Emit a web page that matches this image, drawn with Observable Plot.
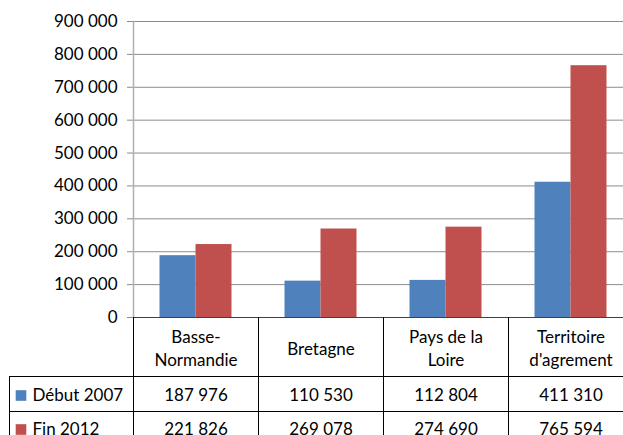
<!DOCTYPE html>
<html><head><meta charset="utf-8">
<script src="https://cdn.jsdelivr.net/npm/d3@7"></script>
<script src="https://cdn.jsdelivr.net/npm/@observablehq/plot@0.6"></script>
<style>body{margin:0;background:#fff;} #chart svg{display:block;overflow:hidden;}</style>
</head><body><div id="chart"></div>
<script>
const categories = ["Basse-Normandie", "Bretagne", "Pays de la Loire", "Territoire d'agrement"];
const categoryLabels = ["Basse-\nNormandie", "Bretagne", "Pays de la\nLoire", "Territoire\nd'agrement"];
const seriesNames = ["Début 2007", "Fin 2012"];
const debut2007 = [187976, 110530, 112804, 411310];
const fin2012 = [221826, 269078, 274690, 765594];
const seriesColors = ["#4F81BD", "#C0504D"];
const yTicks = [0, 100000, 200000, 300000, 400000, 500000, 600000, 700000, 800000, 900000];

const fmt = d => d3.format(",")(d).replace(/,/g, " ");
const seriesValues = [debut2007, fin2012];
const rows = seriesNames.map((s, si) => categories.map((c, i) => ({series: s, category: c, value: seriesValues[si][i]})));

const FONT = "Lato, 'Open Sans', sans-serif";
const FS = 17;
const rowDy = [78, 112];

const marks = [
  Plot.ruleY(yTicks.filter(d => d > 0), {stroke: "#8c8c8c", strokeWidth: 1}),
  Plot.axisY({ticks: yTicks, tickFormat: fmt, tickSize: 6, tickPadding: 10, stroke: "#8c8c8c", fill: "#000", fontSize: FS, label: null}),
  Plot.frame({anchor: "left", stroke: "#b0b0b0", strokeWidth: 1.5}),
];
rows.forEach((r, si) => {
  marks.push(Plot.barY(r, {x: "category", y: "value", fill: seriesColors[si], insetLeft: 44.5, insetRight: 44.5, dx: si === 0 ? -18 : 18}));
});
marks.push(Plot.ruleY([0], {stroke: "#404040", strokeWidth: 1}));
marks.push(Plot.text(categories, {x: d => d, text: (d, i) => categoryLabels[i], frameAnchor: "bottom", dy: 30, lineAnchor: "middle", lineHeight: 1.35, fontSize: FS, fill: "#000"}));
rows.forEach((r, si) => {
  marks.push(Plot.text(r, {x: "category", text: d => fmt(d.value), frameAnchor: "bottom", dy: rowDy[si], lineAnchor: "middle", fontSize: FS, fill: "#000"}));
  marks.push(Plot.text([seriesNames[si]], {text: d => d, frameAnchor: "bottom-left", dx: -101, dy: rowDy[si], textAnchor: "start", lineAnchor: "middle", fontSize: FS, fill: "#000"}));
  marks.push(Plot.dot([seriesNames[si]], {frameAnchor: "bottom-left", dx: -112.5, dy: rowDy[si], symbol: "square", r: 6, fill: seriesColors[si], stroke: "none"}));
});

const plot = Plot.plot({
  width: 623, height: 435,
  marginLeft: 133, marginRight: -10, marginTop: 21, marginBottom: 118,
  style: {fontFamily: FONT, fontSize: FS + "px", background: "#fff"},
  x: {type: "band", domain: categories, padding: 0, axis: null},
  y: {domain: [0, 900000], axis: null},
  marks
});

// data table grid lines drawn from the plot's scales
const xs = plot.scale("x"), ys = plot.scale("y");
const y0 = ys.apply(0);
const rowTop = y0 + 59, rowMid = rowTop + 35, bottom = 435;
const g = d3.select(plot).append("g").attr("stroke", "#000").attr("stroke-width", 1).attr("shape-rendering", "crispEdges");
categories.forEach(c => {
  const x = xs.apply(c);
  g.append("line").attr("x1", x).attr("x2", x).attr("y1", y0).attr("y2", bottom);
});
g.append("line").attr("x1", 9).attr("x2", 9).attr("y1", rowTop).attr("y2", bottom);
[rowTop, rowMid].forEach(y => g.append("line").attr("x1", 9).attr("x2", 623).attr("y1", y).attr("y2", y));

document.getElementById("chart").appendChild(plot);
</script>
</body></html>
